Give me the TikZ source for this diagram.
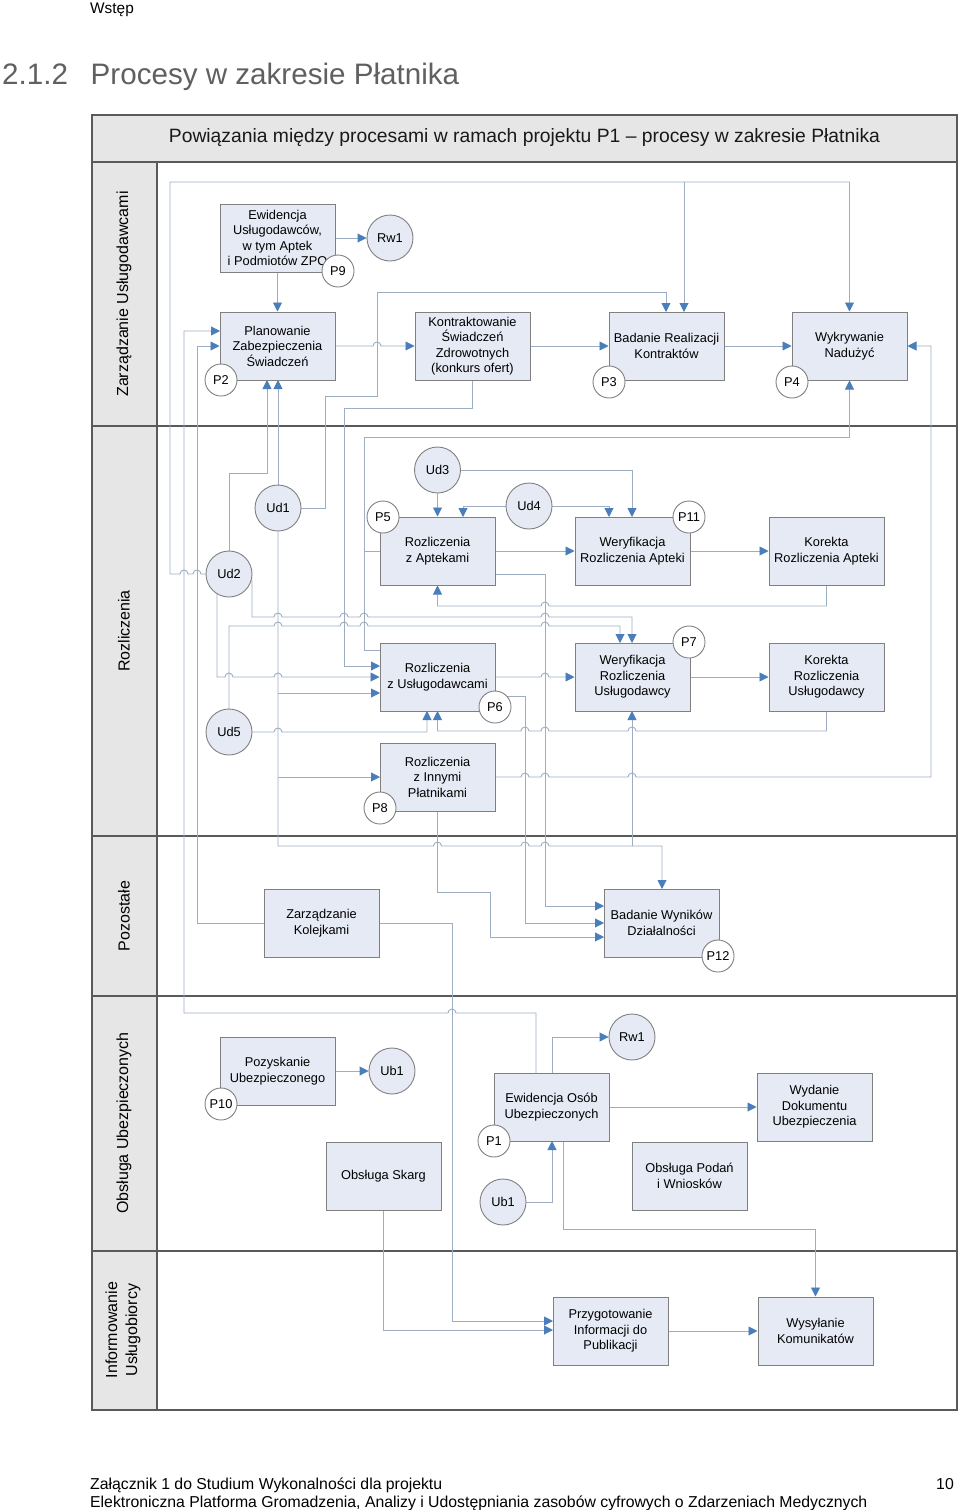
\documentclass[tikz,border=0pt]{standalone}
\usepackage{fontspec}
\setmainfont{Liberation Sans}
\usetikzlibrary{arrows.meta}
\definecolor{boxfill}{HTML}{E6EAF5}
\definecolor{boxdraw}{HTML}{808080}
\definecolor{linec}{HTML}{9DADC2}
\definecolor{arrowc}{HTML}{4A7EBB}
\definecolor{lanefill}{HTML}{E6E6E6}
\definecolor{framec}{HTML}{5A5A5A}
\definecolor{headc}{HTML}{606060}
\newcommand\bxfont{\fontsize{12.8}{15.5}\selectfont}
\pgfdeclarelayer{bg}
\pgfdeclarelayer{lines}
\pgfsetlayers{bg,lines,main}
\begin{document}
\begin{tikzpicture}[x=1pt,y=-1pt,
 box/.style={draw=boxdraw, fill=boxfill, line width=1pt, minimum width=115pt, minimum height=68pt, inner sep=1pt, align=center, font=\bxfont},
 store/.style={circle, draw=boxdraw, fill=boxfill, line width=0.9pt, minimum size=46pt, inner sep=0pt, font=\bxfont},
 pnum/.style={circle, draw=boxdraw, fill=white, line width=0.9pt, minimum size=32pt, inner sep=0pt, font=\bxfont},
 conn/.style={draw=linec, line width=0.9pt},
 arr/.style={conn, -{Triangle[length=9pt,width=9pt,color=arrowc]}},
 hopr/.style 2 args={insert path={-- (#1-4,#2) arc (180:360:4)}},
 hopl/.style 2 args={insert path={-- (#1+4,#2) arc (0:-180:4)}},
 frame/.style={draw=framec, line width=1.4pt},
 lanelab/.style={rotate=90, font=\fontsize{16}{20}\selectfont, align=center}]
\useasboundingbox (0,0) rectangle (960,1510);

% frame and lanes
\begin{pgfonlayer}{bg}
\fill[white] (0,0) rectangle (960,1510);
\fill[lanefill] (92,115) rectangle (957,162);
\fill[lanefill] (92,162) rectangle (157,1410);
\draw[frame] (92,115) rectangle (957,1410);
\foreach \yy in {162,426,836,996,1251} \draw[frame] (92,\yy) -- (957,\yy);
\draw[frame] (157,162) -- (157,1410);
\end{pgfonlayer}

% page texts
\node[anchor=base west, inner sep=0, font=\fontsize{15.4}{18}\selectfont] (wstep) at (90,13.5) {Wstęp};
\node[anchor=base west, inner sep=0, text=headc, font=\fontsize{29.6}{35}\selectfont] (secnum) at (2,84) {2.1.2};
\node[anchor=base west, inner sep=0, text=headc, font=\fontsize{29.6}{35}\selectfont] (sectitle) at (90.5,84) {Procesy w zakresie Płatnika};
\node[anchor=base west, inner sep=0, font=\fontsize{15.8}{18}\selectfont] (foot1) at (90,1489) {Załącznik 1 do Studium Wykonalności dla projektu};
\node[anchor=base west, inner sep=0, font=\fontsize{15.8}{18}\selectfont] (foot2) at (90,1507) {Elektroniczna Platforma Gromadzenia, Analizy i Udostępniania zasobów cyfrowych o Zdarzeniach Medycznych};
\node[anchor=base east, inner sep=0, font=\fontsize{15.8}{18}\selectfont] (pageno) at (954,1489) {10};

\node[font=\fontsize{19.3}{23}\selectfont, text=black!90] (title) at (524.5,138) {Powiązania między procesami w ramach projektu P1 – procesy w zakresie Płatnika};
\node[lanelab] (l1) at (124,294) {Zarządzanie Usługodawcami};
\node[lanelab] (l2) at (124,631) {Rozliczenia};
\node[lanelab] (l3) at (124,916) {Pozostałe};
\node[lanelab] (l4) at (124,1123) {Obsługa Ubezpieczonych};
\node[lanelab] (l5) at (123,1330) {Informowanie\\Usługobiorcy};

% boxes
\node[box] (ewid) at (277.5,238) {Ewidencja\\Usługodawców,\\w tym Aptek\\i Podmiotów ZPO};
\node[box] (plan) at (277.5,346) {Planowanie\\Zabezpieczenia\\Świadczeń};
\node[box] (kontr) at (472.5,346) {Kontraktowanie\\Świadczeń\\Zdrowotnych\\(konkurs ofert)};
\node[box] (badR) at (666.5,346) {Badanie Realizacji\\Kontraktów};
\node[box] (wykr) at (849.5,346) {Wykrywanie\\Nadużyć};
\node[box] (apt) at (437.5,551) {Rozliczenia\\z Aptekami};
\node[box] (usl) at (437.5,677) {Rozliczenia\\z Usługodawcami};
\node[box] (inn) at (437.5,777) {Rozliczenia\\z Innymi\\Płatnikami};
\node[box] (werA) at (632.5,551) {Weryfikacja\\Rozliczenia Apteki};
\node[box] (korA) at (826.5,551) {Korekta\\Rozliczenia Apteki};
\node[box] (werU) at (632.5,677) {Weryfikacja\\Rozliczenia\\Usługodawcy};
\node[box] (korU) at (826.5,677) {Korekta\\Rozliczenia\\Usługodawcy};
\node[box] (kol) at (321.5,923) {Zarządzanie\\Kolejkami};
\node[box] (badW) at (661.5,923) {Badanie Wyników\\Działalności};
\node[box] (pozy) at (277.5,1071) {Pozyskanie\\Ubezpieczonego};
\node[box] (skarg) at (383.5,1176) {Obsługa Skarg};
\node[box] (ewo) at (551.5,1107) {Ewidencja Osób\\Ubezpieczonych};
\node[box] (wyd) at (814.5,1107) {Wydanie\\Dokumentu\\Ubezpieczenia};
\node[box] (podan) at (689.5,1176) {Obsługa Podań\\i Wniosków};
\node[box] (przyg) at (610.5,1331) {Przygotowanie\\Informacji do\\Publikacji};
\node[box] (wys) at (815.5,1331) {Wysyłanie\\Komunikatów};

% stores
\node[store] (rw1) at (390,238) {Rw1};
\node[store] (ud3) at (437.5,470) {Ud3};
\node[store] (ud1) at (278,508) {Ud1};
\node[store] (ud4) at (529,506) {Ud4};
\node[store] (ud2) at (229,574) {Ud2};
\node[store] (ud5) at (229,732) {Ud5};
\node[store] (ub1a) at (392,1071) {Ub1};
\node[store] (ub1b) at (503,1202) {Ub1};
\node[store] (rw1b) at (632,1037) {Rw1};

% process numbers
\node[pnum] (p9) at (338,271) {P9};
\node[pnum] (p2) at (221,380) {P2};
\node[pnum] (p3) at (609,382) {P3};
\node[pnum] (p4) at (792,382) {P4};
\node[pnum] (p5) at (383,517) {P5};
\node[pnum] (p6) at (495,707) {P6};
\node[pnum] (p8) at (380,808) {P8};
\node[pnum] (p11) at (689,517) {P11};
\node[pnum] (p7) at (689,642) {P7};
\node[pnum] (p12) at (718,956) {P12};
\node[pnum] (p10) at (221,1104) {P10};
\node[pnum] (p1) at (494,1141) {P1};

\begin{pgfonlayer}{lines}
% Zarzadzanie
\draw[arr] (ewid.east) -- (rw1.west);
\draw[arr] (ewid.south) -- (plan.north);
\draw[arr] (plan.east) [hopr={377}{346}] -- (kontr.west);
\draw[arr] (kontr.east) -- (badR.west);
\draw[arr] (badR.east) -- (wykr.west);
\draw[arr] (ud2.west) [hopl={197}{574}] [hopl={184}{574}] -- (170,574) -- (170,182) -- (849.5,182) -- (wykr.north);
\draw[arr] (684,182) -- (684,312);
\draw[arr] (ud1.east) -- (325,508) -- (325,396) -- (377,396) -- (377,292) -- (666,292) -- (666,312);
\draw[arr] (kontr.south) -- (472.5,408) -- (344,408) -- (344,666) -- (380,666);
\draw[arr] (ud2.north) -- (229,473) -- (267,473) -- (267,380);
\draw[arr] (ud1.north) -- (278,380);
\draw[arr] (536,1073) -- (536,1013) [hopl={452}{1013}] -- (184,1013) -- (184,331) -- (220,331);
\draw[arr] (kol.west) -- (197,923) -- (197,346) -- (plan.west);
\draw[arr] (kol.east) -- (452,923) -- (452,1321) -- (553,1321);
\draw[arr] (skarg.south) -- (383.5,1330) -- (553,1330);
\draw[arr] (przyg.east) -- (wys.west);
\draw[arr] (563,1141) -- (563,1229) -- (815.5,1229) -- (wys.north);
\draw[arr] (ub1b.east) -- (552,1202) -- (552,1141);
\draw[arr] (ewo.east) -- (wyd.west);
\draw[arr] (552,1073) -- (552,1037) -- (rw1b.west);
\draw[arr] (pozy.east) -- (ub1a.west);
% Rozliczenia
\draw[arr] (ud3.south) -- (apt.north);
\draw[arr] (ud4.west) -- (463,506) -- (463,517);
\draw[arr] (ud4.east) -- (609,506) -- (609,517);
\draw[arr] (ud3.east) -- (632,470) -- (632,517);
\draw[arr] (apt.east) -- (werA.west);
\draw[arr] (werA.east) -- (korA.west);
\draw[arr] (korA.south) -- (826.5,606) [hopl={545}{606}] -- (437.5,606) -- (apt.south);
\draw[arr] (usl.east) [hopr={545}{677}] -- (werU.west);
\draw[arr] (werU.east) -- (korU.west);
\draw[arr] (korU.south) -- (826.5,731) [hopl={632}{731}] [hopl={545}{731}] [hopl={525}{731}] -- (437.5,731) -- (437.5,711);
\draw[arr] (ud5.east) [hopr={278}{732}] -- (427,732) -- (427,711);
\draw[arr] (217,593) -- (217,677) [hopr={229}{677}] [hopr={278}{677}] -- (usl.west);
\draw[arr] (252,580) -- (252,617) [hopr={278}{617}] [hopr={344}{617}] [hopr={364}{617}] [hopr={545}{617}] -- (632,617) -- (632,643);
\draw[arr] (ud5.north) -- (229,626) [hopr={278}{626}] [hopr={344}{626}] [hopr={364}{626}] [hopr={545}{626}] -- (620,626) -- (620,643);
\draw[conn] (apt.west) -- (364,551);
\draw[arr] (380,650) -- (364,650) -- (364,437) -- (849.5,437) -- (wykr.south);
\draw[arr] (inn.east) [hopr={525}{777}] [hopr={545}{777}] [hopr={632}{777}] -- (931,777) -- (931,346) -- (wykr.east);
\draw[arr] (ud1.south) -- (278,846) [hopr={437.5}{846}] [hopr={525}{846}] [hopr={545}{846}] -- (662,846) -- (662,889);
\draw[arr] (278,693) -- (380,693);
\draw[arr] (278,777) -- (380,777);
\draw[arr] (632,846) -- (632,711);
\draw[arr] (495,696) -- (525,696) -- (525,923) -- (604,923);
\draw[arr] (495,574) -- (545,574) -- (545,906) -- (604,906);
\draw[arr] (437.5,811) -- (437.5,892) -- (490,892) -- (490,937) -- (604,937);
\end{pgfonlayer}
\end{tikzpicture}
\end{document}
